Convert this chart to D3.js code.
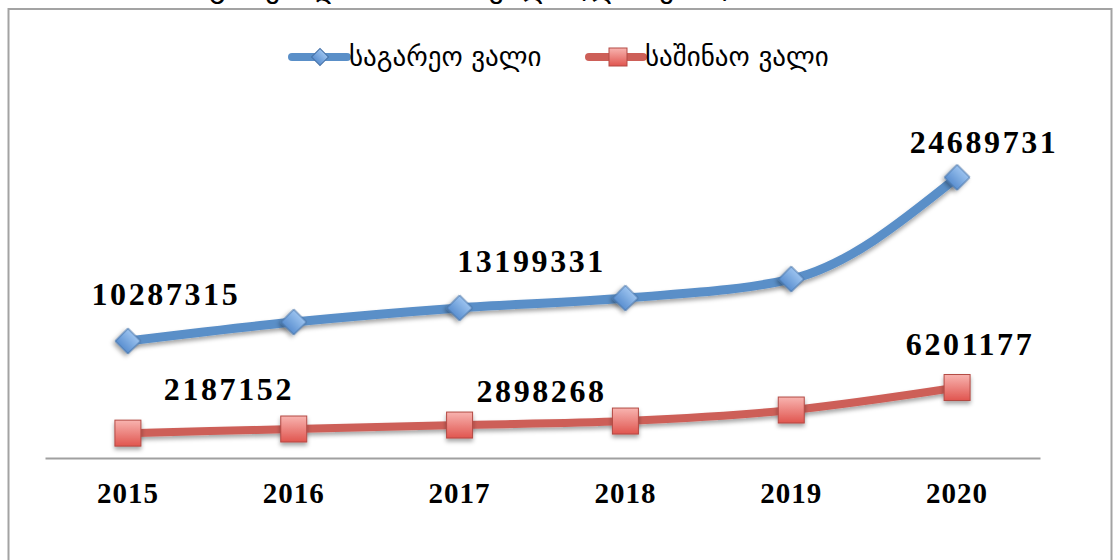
<!DOCTYPE html>
<html>
<head>
<meta charset="utf-8">
<script src="https://cdn.jsdelivr.net/npm/d3@7/dist/d3.min.js"></script>
<style>
  body { margin: 0; background: #fff; }
  svg { display: block; }
</style>
</head>
<body>
<div id="chart"></div>
<script>
// data
var years = ["2015", "2016", "2017", "2018", "2019", "2020"];
var foreignDebt = [10287315, 11960000, 13199331, 14070000, 15740000, 24689731];
var domesticDebt = [2187152, 2550000, 2898268, 3250000, 4220000, 6201177];
var seriesNames = ["საგარეო ვალი", "საშინაო ვალი"];
var titleText = "საგარეო და საშინაო ვალი (ლარებში)";
// which points carry a label
var foreignLabelled = ["2015", "2017", "2020"];
var domesticLabelled = ["2015", "2017", "2020"];

var W = 1113, H = 560;
var plot = {left: 45, right: 1040, top: 117, bottom: 458};

var svg = d3.select("#chart").append("svg")
    .attr("width", W)
    .attr("height", H);

var defs = svg.append("defs");
var shadow = defs.append("filter").attr("id", "shadow")
    .attr("x", "-50%").attr("y", "-50%").attr("width", "200%").attr("height", "200%");
shadow.append("feDropShadow").attr("dx", 0).attr("dy", 3)
    .attr("stdDeviation", 2).attr("flood-color", "#000").attr("flood-opacity", 0.35);

var gb = defs.append("linearGradient").attr("id", "gBlue").attr("x1", 0).attr("y1", 0).attr("x2", 0).attr("y2", 1);
gb.append("stop").attr("offset", "0%").attr("stop-color", "#9cc3ef");
gb.append("stop").attr("offset", "100%").attr("stop-color", "#5a8fd0");
var gr = defs.append("linearGradient").attr("id", "gRed").attr("x1", 0).attr("y1", 0).attr("x2", 0).attr("y2", 1);
gr.append("stop").attr("offset", "0%").attr("stop-color", "#f8b4b0");
gr.append("stop").attr("offset", "100%").attr("stop-color", "#e0554f");

// frame
svg.append("rect")
    .attr("x", 8.5).attr("y", 9).attr("width", 1103).attr("height", 560)
    .attr("fill", "none").attr("stroke", "#a3a3a3").attr("stroke-width", 2);

// title (overflows the top edge, only the bottoms show)
svg.append("text")
    .attr("x", 455).attr("y", -3)
    .attr("text-anchor", "middle")
    .style("font-family", "DejaVu Sans")
    .style("font-size", "30px")
    .text(titleText);

var x = d3.scaleBand().domain(years).range([plot.left, plot.right]);
var y = d3.scaleLinear().domain([0, 30000000]).range([plot.bottom, plot.top]);
var cx = function(d) { return x(d) + x.bandwidth() / 2; };

// x axis
var xAxis = d3.axisBottom(x).tickSize(0).tickPadding(0);
var axisG = svg.append("g")
    .attr("transform", "translate(0," + plot.bottom + ")")
    .call(xAxis);
axisG.select(".domain").attr("stroke", "#a0a0a0").attr("stroke-width", 2);
axisG.selectAll("text")
    .attr("dy", null)
    .attr("y", 45)
    .style("font-family", "Liberation Serif")
    .style("font-size", "29px")
    .style("font-weight", "bold")
    .style("letter-spacing", "1px")
    .attr("fill", "#000");

var line = d3.line()
    .x(function(d) { return cx(d.year); })
    .y(function(d) { return y(d.value); })
    .curve(d3.curveMonotoneX);

function pairs(vals) {
    return years.map(function(yr, i) { return {year: yr, value: vals[i]}; });
}

var foreign = pairs(foreignDebt);
var domestic = pairs(domesticDebt);

// lines
svg.append("path").datum(domestic)
    .attr("d", line).attr("fill", "none")
    .attr("stroke", "#cd5f58").attr("stroke-width", 8)
    .attr("filter", "url(#shadow)");
svg.append("path").datum(foreign)
    .attr("d", line).attr("fill", "none")
    .attr("stroke", "#5a8fc8").attr("stroke-width", 9)
    .attr("filter", "url(#shadow)");

// markers
svg.append("g").selectAll("rect")
    .data(domestic).enter()
    .append("rect")
    .attr("x", function(d) { return cx(d.year) - 13; })
    .attr("y", function(d) { return y(d.value) - 13; })
    .attr("width", 26).attr("height", 26)
    .attr("fill", "url(#gRed)").attr("stroke", "#b34a44").attr("stroke-width", 1)
    .attr("filter", "url(#shadow)");

var diamond = d3.symbol().type(d3.symbolSquare).size(18 * 18);
svg.append("g").selectAll("path")
    .data(foreign).enter()
    .append("path")
    .attr("d", diamond)
    .attr("transform", function(d) {
        return "translate(" + cx(d.year) + "," + y(d.value) + ") rotate(45)";
    })
    .attr("fill", "url(#gBlue)").attr("stroke", "#4672a8").attr("stroke-width", 1)
    .attr("filter", "url(#shadow)");

// data labels (manually moved, like in the original)
var labelShift = {
    foreign: {"2015": [38, -36], "2017": [72, -36], "2020": [27, -24]},
    domestic: {"2015": [101, -33], "2017": [82, -23], "2020": [13, -33]}
};

function labels(data, which, keep) {
    svg.append("g").selectAll("text")
        .data(data.filter(function(d) { return keep.indexOf(d.year) >= 0; }))
        .enter().append("text")
        .attr("x", function(d) { return cx(d.year) + labelShift[which][d.year][0]; })
        .attr("y", function(d) { return y(d.value) + labelShift[which][d.year][1]; })
        .attr("text-anchor", "middle")
        .style("font-family", "Liberation Serif")
        .style("font-size", "32px")
        .style("font-weight", "bold")
        .style("letter-spacing", "2.6px")
        .text(function(d) { return d.value; });
}
labels(foreign, "foreign", foreignLabelled);
labels(domestic, "domestic", domesticLabelled);

// legend
var legend = svg.append("g").attr("transform", "translate(0,57)");
legend.append("line").attr("x1", 292).attr("x2", 347)
    .attr("stroke", "#5a8fc8").attr("stroke-width", 8).attr("stroke-linecap", "round");
legend.append("path").attr("d", d3.symbol().type(d3.symbolSquare).size(12 * 12))
    .attr("transform", "translate(320,0) rotate(45)")
    .attr("fill", "url(#gBlue)").attr("stroke", "#4672a8");
legend.append("text").attr("x", 349).attr("y", 9)
    .style("font-family", "DejaVu Sans").style("font-size", "27px")
    .text(seriesNames[0]);

legend.append("line").attr("x1", 589).attr("x2", 643)
    .attr("stroke", "#cd5f58").attr("stroke-width", 8).attr("stroke-linecap", "round");
legend.append("rect").attr("x", 609).attr("y", -9).attr("width", 18).attr("height", 18)
    .attr("fill", "url(#gRed)").attr("stroke", "#b34a44");
legend.append("text").attr("x", 645).attr("y", 9)
    .style("font-family", "DejaVu Sans").style("font-size", "27px")
    .text(seriesNames[1]);
</script>
</body>
</html>
